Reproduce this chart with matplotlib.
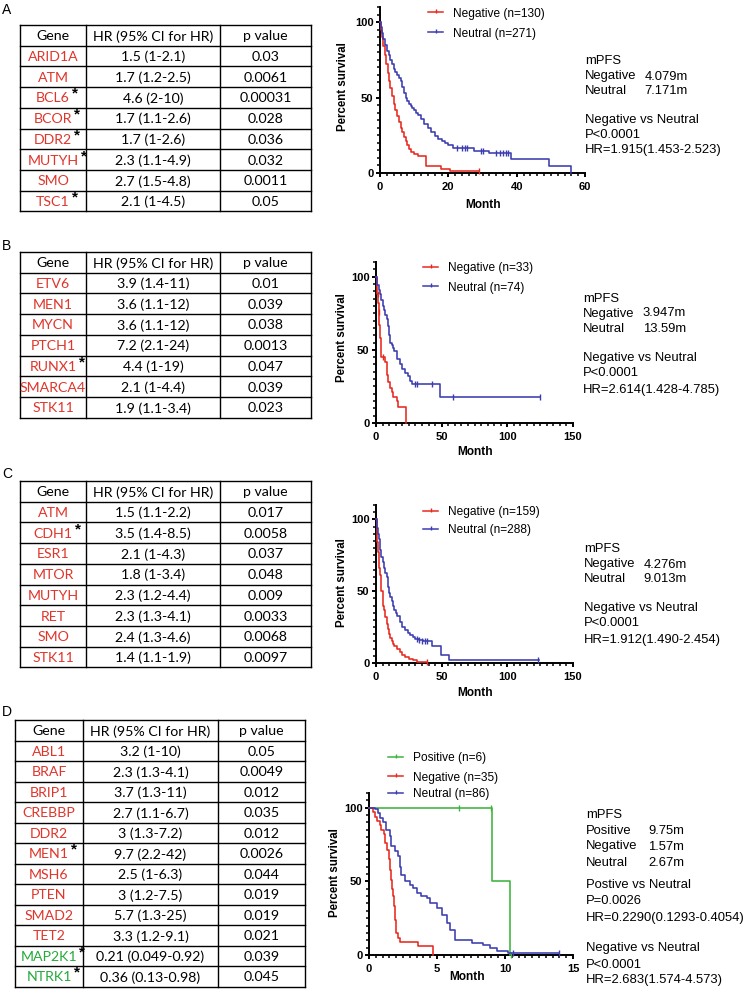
import numpy as np
import matplotlib
matplotlib.use('Agg')
import matplotlib.pyplot as plt
from matplotlib.ticker import MultipleLocator

plt.rcParams['font.family'] = ['Liberation Sans', 'DejaVu Sans']

W, H = 746, 991

RED = '#e8281e'
BLUE = '#3b3cb0'
GREEN = '#3cb43c'
GENE_RED = '#e0352b'
GENE_GREEN = '#25aa3a'
TAB_FONT = ['Lato', 'DejaVu Sans']

header = ['Gene', 'HR (95% CI for HR)', 'p value']

# ---------------- tables ----------------
genes_a = ['ARID1A', 'ATM', 'BCL6', 'BCOR', 'DDR2', 'MUTYH', 'SMO', 'TSC1']
hr_a = ['1.5 (1-2.1)', '1.7 (1.2-2.5)', '4.6 (2-10)', '1.7 (1.1-2.6)',
        '1.7 (1-2.6)', '2.3 (1.1-4.9)', '2.7 (1.5-4.8)', '2.1 (1-4.5)']
p_a = ['0.03', '0.0061', '0.00031', '0.028', '0.036', '0.032', '0.0011', '0.05']
star_a = [0, 0, 1, 1, 1, 1, 0, 1]

genes_b = ['ETV6', 'MEN1', 'MYCN', 'PTCH1', 'RUNX1', 'SMARCA4', 'STK11']
hr_b = ['3.9 (1.4-11)', '3.6 (1.1-12)', '3.6 (1.1-12)', '7.2 (2.1-24)',
        '4.4 (1-19)', '2.1 (1-4.4)', '1.9 (1.1-3.4)']
p_b = ['0.01', '0.039', '0.038', '0.0013', '0.047', '0.039', '0.023']
star_b = [0, 0, 0, 0, 1, 0, 0]

genes_c = ['ATM', 'CDH1', 'ESR1', 'MTOR', 'MUTYH', 'RET', 'SMO', 'STK11']
hr_c = ['1.5 (1.1-2.2)', '3.5 (1.4-8.5)', '2.1 (1-4.3)', '1.8 (1-3.4)',
        '2.3 (1.2-4.4)', '2.3 (1.3-4.1)', '2.4 (1.3-4.6)', '1.4 (1.1-1.9)']
p_c = ['0.017', '0.0058', '0.037', '0.048', '0.009', '0.0033', '0.0068', '0.0097']
star_c = [0, 1, 0, 0, 0, 0, 0, 0]

genes_d = ['ABL1', 'BRAF', 'BRIP1', 'CREBBP', 'DDR2', 'MEN1', 'MSH6', 'PTEN',
           'SMAD2', 'TET2', 'MAP2K1', 'NTRK1']
hr_d = ['3.2 (1-10)', '2.3 (1.3-4.1)', '3.7 (1.3-11)', '2.7 (1.1-6.7)', '3 (1.3-7.2)',
        '9.7 (2.2-42)', '2.5 (1-6.3)', '3 (1.2-7.5)', '5.7 (1.3-25)', '3.3 (1.2-9.1)',
        '0.21 (0.049-0.92)', '0.36 (0.13-0.98)']
p_d = ['0.05', '0.0049', '0.012', '0.035', '0.012', '0.0026', '0.044', '0.019',
       '0.019', '0.021', '0.039', '0.045']
star_d = [0, 0, 0, 0, 0, 1, 0, 0, 0, 0, 1, 1]
positive_d = [0, 0, 0, 0, 0, 0, 0, 0, 0, 0, 1, 1]

# ---------------- KM curves (month, percent survival) ----------------
a_neg_t = [0, 0.3, 0.7, 1.0, 1.4, 1.8, 2.2, 2.6, 3.0, 3.5, 4.0, 4.5, 5.0, 5.5, 6.0,
           6.5, 7.0, 7.5, 8.0, 8.6, 9.2, 10.0, 11.0, 13.6, 17.8, 20.6, 29.0]
a_neg_s = [100, 95, 90, 84, 78, 72, 66, 61, 56, 51, 46, 42, 38, 34, 30, 27, 24, 21,
           18.5, 16, 14, 12.5, 11, 4.5, 2.5, 1, 1]
a_neg_ct, a_neg_cs = [29.0], [1]
a_neu_t = [0, 0.3, 0.6, 1.0, 1.5, 2.0, 2.5, 3.0, 3.5, 4.0, 4.5, 5.0, 5.5, 6.0, 6.5,
           7.0, 7.5, 8.0, 8.5, 9.0, 9.5, 10.0, 10.5, 11.0, 12.0, 13.0, 14.0, 15.0,
           16.0, 17.0, 18.0, 19.0, 20.0, 21.5, 27.5, 32.0, 38.2, 49.5, 55.8]
a_neu_s = [100, 97, 93, 89, 85, 81, 78, 75, 72, 69, 67, 65, 63, 61, 57, 53, 50, 48,
           46, 44.5, 43, 41.5, 40, 38.5, 35.5, 32.5, 29.5, 27, 24.5, 22.5, 21, 20,
           18.5, 16.5, 14.5, 13, 9, 4.5, 0]
a_neu_ct = [22.5, 24, 25, 25.5, 29.5, 30.2, 34, 35, 36, 36.8, 37.6]
a_neu_cs = [16.5, 16.5, 16.5, 16.5, 14.5, 14.5, 13, 13, 13, 13, 13]

b_neg_t = [0, 0.5, 1, 1.5, 2, 2.5, 3, 3.5, 6.8, 8.0, 8.7, 9.3, 10.5, 12, 13.2, 15.7, 17, 22.5]
b_neg_s = [100, 94, 88, 82, 76, 67, 58, 45, 42, 38, 33, 28, 24, 21, 18, 15, 11, 0]
b_neg_ct, b_neg_cs = [1.2, 2.2, 5.5], [88, 76, 45]
b_neu_t = [0, 0.5, 1, 2, 3, 4, 5, 6, 7, 8, 9, 10, 11, 12, 13, 14, 16, 18, 20, 22,
           24, 26, 27.5, 48.5, 124.5]
b_neu_s = [100, 97, 94, 91, 88, 84, 80, 77, 74, 71, 66, 60, 55, 53, 51, 49, 44, 40,
           37, 34, 32, 29, 26.5, 18, 18]
b_neu_ct = [29.5, 31, 42.5, 58.5, 124.5]
b_neu_cs = [26.5, 26.5, 26.5, 18, 18]

c_neg_t = [0, 0.5, 1, 1.5, 2, 2.5, 3, 3.5, 4, 5, 5.5, 6, 7, 8, 9, 10, 11, 12, 13,
           14, 16, 18, 20, 22, 25, 28, 31, 38.5]
c_neg_s = [100, 92, 84, 77, 71, 66, 61, 56, 50, 43, 40, 37, 32, 27, 23.5, 20, 17.5,
           15, 13, 11.5, 9.5, 7.5, 5.5, 4.3, 3, 1.8, 0.8, 0.8]
c_neg_ct, c_neg_cs = [38.5], [0.8]
c_neu_t = [0, 0.5, 1, 1.5, 2, 3, 4, 5, 6, 7, 8, 9, 10, 11, 12, 13, 14, 15, 16, 18,
           20, 22, 24, 26, 28, 30, 33, 36, 42.3, 49.5, 55.8, 124]
c_neu_s = [100, 97, 94, 90, 86, 79, 74, 70, 66, 63, 60, 53, 49, 46, 43, 40, 37, 35,
           32.5, 28.5, 25, 23, 21, 19.5, 18, 17, 16, 15, 11.5, 5.8, 2.3, 2.3]
c_neu_ct = [31, 33, 35, 37, 39, 123.5]
c_neu_cs = [17, 16, 15, 15, 15, 2.3]

d_pos_t = [0, 9.05, 10.4]
d_pos_s = [100, 50, 0]
d_pos_ct, d_pos_cs = [6.65, 9.0, 10.45], [100, 100, 0]
d_neg_t = [0, 0.3, 0.42, 0.6, 0.8, 0.9, 1.08, 1.2, 1.33, 1.45, 1.57, 1.65, 1.72,
           1.8, 1.87, 1.94, 2.0, 2.14, 2.26, 3.6, 4.67]
d_neg_s = [100, 97, 94, 91, 88, 85, 82, 76, 71, 65, 58, 51, 45, 40, 33, 24, 15,
           11.5, 9, 6, 0]
d_neg_ct, d_neg_cs = [], []
d_neu_t = [0, 0.42, 0.66, 0.79, 1.03, 1.28, 1.52, 1.65, 1.9, 2.14, 2.26, 2.38, 2.63,
           3.0, 3.25, 3.5, 3.86, 4.23, 4.47, 4.97, 5.34, 5.7, 5.95, 6.32, 7.55, 8.4,
           8.9, 9.4, 10.25, 13.94]
d_neu_s = [100, 99, 96.5, 93, 90, 85, 81, 74, 70.5, 67, 60, 54.5, 50, 47.7, 45.5,
           42, 40, 38.6, 35, 31.8, 27, 21.6, 17, 10, 8, 6.8, 4.5, 3, 1.6, 1.6]
d_neu_ct, d_neu_cs = [10.6, 13.94], [1.6, 1.6]

fig = plt.figure(figsize=(W / 100, H / 100), dpi=100)
bg = fig.add_axes([0, 0, 1, 1])
bg.set_xlim(0, W)
bg.set_ylim(H, 0)
bg.axis('off')


def draw_table(cols, top, row_h, genes, hrs, ps, stars, colors):
    n = len(genes) + 1
    bottom = top + n * row_h
    for x in cols:
        bg.plot([x, x], [top, bottom], color='k', lw=1.0, solid_capstyle='projecting')
    for i in range(n + 1):
        y = top + i * row_h
        bg.plot([cols[0], cols[-1]], [y, y], color='k', lw=1.0, solid_capstyle='projecting')
    cx = [(cols[i] + cols[i + 1]) / 2 for i in range(3)]
    kw = dict(ha='center', va='center_baseline', fontsize=10.2, family=TAB_FONT)
    for j, h in enumerate(header):
        bg.text(cx[j], top + row_h / 2, h, color='k', **kw)
    for i, g in enumerate(genes):
        yc = top + (i + 1.5) * row_h
        t = bg.text(cx[0], yc, g, color=colors[i], **kw)
        if stars[i]:
            # asterisk raised just after the gene name
            bg.annotate('*', xy=(1, 1), xycoords=t, xytext=(1.5, 4),
                        textcoords='offset points', ha='left', va='top',
                        fontsize=11, fontweight='bold', color='k')
        bg.text(cx[1], yc, hrs[i], color='k', **kw)
        bg.text(cx[2], yc, ps[i], color='k', **kw)


def km_axes(l, t, r, b, xmax, xmaj, xmin):
    ax = fig.add_axes([l / W, 1 - b / H, (r - l) / W, (b - t) / H])
    ax.patch.set_alpha(0)
    ax.set_xlim(0, xmax)
    ax.set_ylim(0, 110)
    for s in ['top', 'right']:
        ax.spines[s].set_visible(False)
    for s in ['left', 'bottom']:
        ax.spines[s].set_linewidth(1.4)
    ax.xaxis.set_major_locator(MultipleLocator(xmaj))
    ax.xaxis.set_minor_locator(MultipleLocator(xmin))
    ax.set_yticks([0, 50, 100])
    ax.yaxis.set_minor_locator(MultipleLocator(5))
    ax.tick_params(which='major', length=3.2, width=1.4, labelsize=8)
    ax.tick_params(which='minor', length=2, width=1.1)
    ax.tick_params(axis='x', which='major', pad=3)
    ax.tick_params(axis='y', which='major', pad=1.5)
    for lab in ax.get_xticklabels() + ax.get_yticklabels():
        lab.set_fontweight('bold')
    return ax


def km_curve(ax, t, s, ct, cs, color):
    ax.step(t, s, where='post', color=color, lw=1.15, clip_on=False, zorder=3)
    if ct:
        ax.plot(ct, cs, ls='none', marker='|', ms=4, mew=1.0, color=color,
                clip_on=False, zorder=3)


def km_labels(ax, ylab_xy, xlab_xy):
    ax.set_ylabel('Percent survival', fontsize=8.3, fontweight='bold')
    ax.set_xlabel('Month', fontsize=8.6, fontweight='bold')
    ax.yaxis.set_label_coords(*ylab_xy, transform=bg.transData)
    ax.xaxis.set_label_coords(*xlab_xy, transform=bg.transData)


def legend(x0, ys, labels, colors):
    for y, lab, c in zip(ys, labels, colors):
        bg.plot([x0, x0 + 15], [y, y], color=c, lw=1.1)
        bg.plot([x0 + 7.5], [y - 1.5], marker='|', ms=3, mew=1.0, color=c)
        bg.text(x0 + 25, y, lab, fontsize=8.6, va='center_baseline', ha='left')


def stats(x, xr, rows):
    for y, left, right in rows:
        bg.text(x, y, left, fontsize=9.4, va='center_baseline', ha='left')
        if right:
            bg.text(xr, y, right, fontsize=9.4, va='center_baseline', ha='right')


cols_std = [20, 86, 220, 311]

# ---- panel A ----
bg.text(2, 3, 'A', fontsize=10, va='top', ha='left')
draw_table(cols_std, 25, 20.7, genes_a, hr_a, p_a, star_a, [GENE_RED] * len(genes_a))
ax = km_axes(380, 7, 585, 173, 60, 20, 2)
km_curve(ax, a_neg_t, a_neg_s, a_neg_ct, a_neg_cs, RED)
km_curve(ax, a_neu_t, a_neu_s, a_neu_ct, a_neu_cs, BLUE)
km_labels(ax, (349, 87), (483, 199))
legend(428, [12, 32], ['Negative (n=130)', 'Neutral (n=271)'], [RED, BLUE])
stats(585, 688, [(60, 'mPFS', ''), (75, 'Negative', '4.079m'), (90, 'Neutral', '7.171m'),
                 (118, 'Negative vs Neutral', ''), (133, 'P<0.0001', ''),
                 (149, 'HR=1.915(1.453-2.523)', '')])

# ---- panel B ----
bg.text(2, 239, 'B', fontsize=10, va='top', ha='left')
draw_table(cols_std, 252, 20.7, genes_b, hr_b, p_b, star_b, [GENE_RED] * len(genes_b))
ax = km_axes(376, 262, 573, 423, 150, 50, 5)
km_curve(ax, b_neg_t, b_neg_s, b_neg_ct, b_neg_cs, RED)
km_curve(ax, b_neu_t, b_neu_s, b_neu_ct, b_neu_cs, BLUE)
km_labels(ax, (348, 338), (475, 446))
legend(423, [267, 286], ['Negative (n=33)', 'Neutral (n=74)'], [RED, BLUE])
stats(583, 686, [(297, 'mPFS', ''), (312, 'Negative', '3.947m'), (328, 'Neutral', '13.59m'),
                 (356, 'Negative vs Neutral', ''), (372, 'P<0.0001', ''),
                 (388, 'HR=2.614(1.428-4.785)', '')])

# ---- panel C ----
bg.text(2, 467, 'C', fontsize=10, va='top', ha='left')
draw_table(cols_std, 481, 20.7, genes_c, hr_c, p_c, star_c, [GENE_RED] * len(genes_c))
ax = km_axes(376, 505, 573, 663, 150, 50, 5)
km_curve(ax, c_neg_t, c_neg_s, c_neg_ct, c_neg_cs, RED)
km_curve(ax, c_neu_t, c_neu_s, c_neu_ct, c_neu_cs, BLUE)
km_labels(ax, (348, 583), (475, 687))
legend(423, [511, 529], ['Negative (n=159)', 'Neutral (n=288)'], [RED, BLUE])
stats(584, 687, [(548, 'mPFS', ''), (563, 'Negative', '4.276m'), (578, 'Neutral', '9.013m'),
                 (607, 'Negative vs Neutral', ''), (622, 'P<0.0001', ''),
                 (638, 'HR=1.912(1.490-2.454)', '')])

# ---- panel D ----
bg.text(2, 705, 'D', fontsize=10, va='top', ha='left')
colors_d = [GENE_GREEN if p else GENE_RED for p in positive_d]
draw_table([15, 83, 218, 305], 720, 20.5, genes_d, hr_d, p_d, star_d, colors_d)
ax = km_axes(369, 793, 573, 955, 15, 5, 0.5)
km_curve(ax, d_pos_t, d_pos_s, d_pos_ct, d_pos_cs, GREEN)
km_curve(ax, d_neg_t, d_neg_s, d_neg_ct, d_neg_cs, RED)
km_curve(ax, d_neu_t, d_neu_s, d_neu_ct, d_neu_cs, BLUE)
km_labels(ax, (341, 873), (467, 971))
legend(388, [757, 776, 793], ['Positive (n=6)', 'Negative (n=35)', 'Neutral (n=86)'],
       [GREEN, RED, BLUE])
stats(586, 684, [(813, 'mPFS', ''), (829, 'Positive', '9.75m'), (845, 'Negative', '1.57m'),
                 (861, 'Neutral', '2.67m'), (884, 'Postive vs Neutral', ''),
                 (900, 'P=0.0026', ''), (916, 'HR=0.2290(0.1293-0.4054)', ''),
                 (947, 'Negative vs Neutral', ''), (963, 'P<0.0001', ''),
                 (979, 'HR=2.683(1.574-4.573)', '')])

fig.savefig('out.png', dpi=100)
